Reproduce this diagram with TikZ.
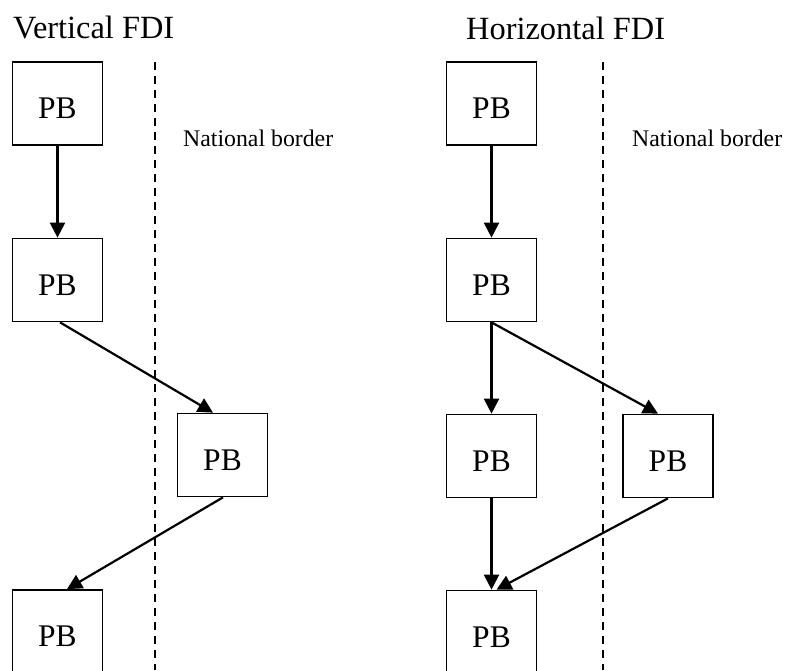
\documentclass[tikz,border=0pt]{standalone}
\usepackage{fontspec}
\setmainfont{Liberation Serif}
\usetikzlibrary{arrows.meta}
\begin{document}
\begin{tikzpicture}[x=1pt,y=-1pt,
  pbbox/.style={draw=black,line width=1.7pt,fill=white,rectangle,minimum width=90pt,minimum height=83pt,inner sep=0pt,
    font=\fontsize{31.5}{37}\selectfont,text height=30pt,text depth=0pt},
  flow/.style={line width=2.2pt,-{Triangle[length=15pt,width=15pt]}},
  border/.style={line width=1.8pt,dash pattern=on 8pt off 6pt},
  title/.style={anchor=base west,inner sep=0pt,font=\fontsize{32.4}{39}\selectfont},
  note/.style={anchor=base west,inner sep=0pt,font=\fontsize{23.8}{28}\selectfont}]
\useasboundingbox (0,0) rectangle (785,670);
\begin{scope}
\clip (0,0) rectangle (785,670);
% dashed national borders
\coordinate (dlt) at (155,62);
\coordinate (dlb) at (155,670);
\coordinate (drt) at (603,62);
\coordinate (drb) at (603,670);
\draw[border] (dlt) -- (dlb);
\draw[border] (drt) -- (drb);
% titles and notes
\node[title] (tv) at (13,38) {Vertical FDI};
\node[title] (th) at (466,39) {Horizontal FDI};
\node[note] (nl) at (183,146) {National border};
\node[note] (nr) at (632,146) {National border};
% vertical FDI boxes
\node[pbbox] (L1) at (57.5,103.5) {PB};
\node[pbbox] (L2) at (57.5,280) {PB};
\node[pbbox] (L3) at (222.5,455) {PB};
\node[pbbox] (L4) at (57.5,631.5) {PB};
% horizontal FDI boxes
\node[pbbox] (R1) at (491.5,103.5) {PB};
\node[pbbox] (R2) at (491.5,280) {PB};
\node[pbbox] (R3) at (491.5,456) {PB};
\node[pbbox] (R4) at (668,456) {PB};
\node[pbbox] (R5) at (491.5,632) {PB};
% connectors
\draw[flow] (L1.south) -- (L2.north);
\draw[flow] ([xshift=2.5pt]L2.south) -- ([xshift=-9.5pt]L3.north);
\draw[flow] ([xshift=0.5pt]L3.south) -- ([xshift=9.5pt]L4.north);
\draw[flow] (R1.south) -- (R2.north);
\draw[flow] (R2.south) -- (R3.north);
\draw[flow] (R2.south) -- ([xshift=-10pt]R4.north);
\draw[flow] (R3.south) -- (R5.north);
\draw[flow] (R4.south) -- ([xshift=5pt]R5.north);
\end{scope}
\end{tikzpicture}
\end{document}
